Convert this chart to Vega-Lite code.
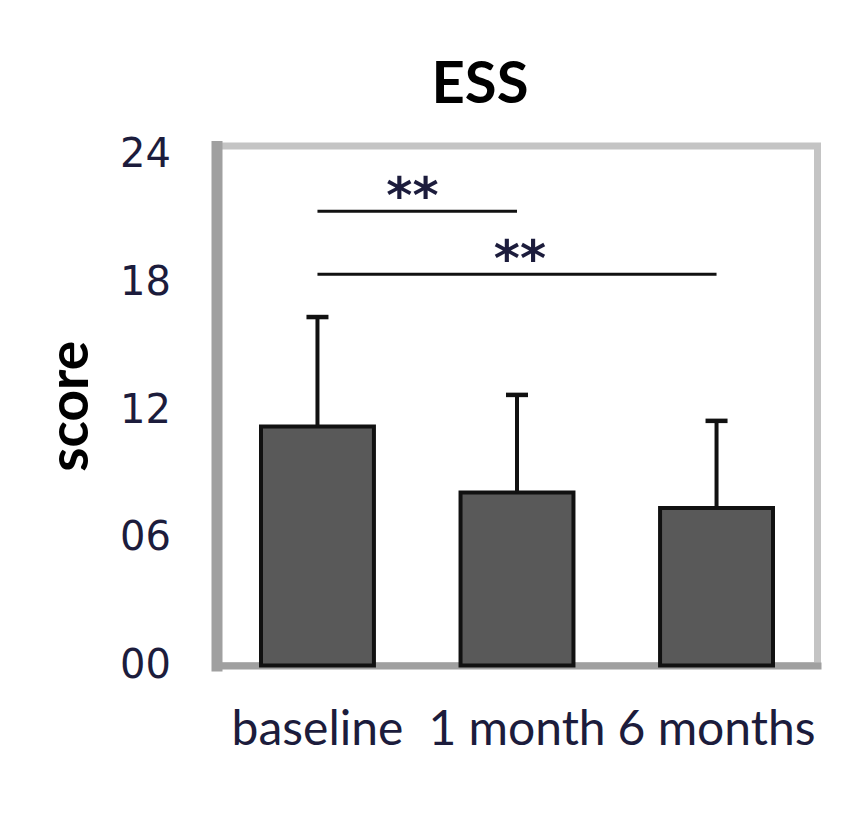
{
  "$schema": "https://vega.github.io/schema/vega-lite/v6.json",
  "autosize": "none",
  "width": 601,
  "height": 519.5,
  "padding": {"left": 216.5, "top": 146, "right": 30.5, "bottom": 150.5},
  "background": "white",
  "title": {
    "text": "ESS",
    "font": "Lato",
    "fontSize": 58,
    "fontWeight": "bold",
    "color": "#000000",
    "anchor": "middle",
    "frame": "group",
    "baseline": "alphabetic",
    "offset": -26,
    "dx": -37
  },
  "config": {
    "view": {"stroke": "#c4c4c4", "strokeWidth": 7},
    "axis": {"zindex": 1},
    "axisX": {
      "ticks": false, "tickSize": 0, "domainColor": "#a0a0a0", "domainWidth": 7, "domainCap": "square",
      "labelFont": "Lato", "labelFontSize": 48, "labelColor": "#1c1c3c", "labelPadding": 41, "labelLimit": 0,
      "labelAngle": 0, "labelOverlap": false, "labelBound": false, "labelBaseline": "top"
    },
    "axisY": {
      "titleFont": "Lato", "titleFontSize": 55, "titleFontWeight": "bold", "titleColor": "#000000",
      "titlePadding": 20, "grid": false, "ticks": false, "tickSize": 0,
      "domainColor": "#a0a0a0", "domainWidth": 11, "domainCap": "square",
      "labelFont": "DejaVu Sans", "labelFontSize": 40, "labelColor": "#1c1c3c", "labelPadding": 46
    }
  },
  "datasets": {
    "bars": [
      {"period": "baseline", "mean": 11.24, "upper": 16.38},
      {"period": "1 month", "mean": 8.13, "upper": 12.72},
      {"period": "6 months", "mean": 7.40, "upper": 11.50}
    ],
    "sig": [
      {"from": "baseline", "to": "1 month", "star_at": "baseline", "level": 21.35, "label": "**", "pair": "a"},
      {"from": "baseline", "to": "6 months", "star_at": "1 month", "level": 18.39, "label": "**", "pair": "b"}
    ]
  },
  "layer": [
    {
      "data": {"name": "bars"},
      "mark": {"type": "bar", "fill": "#595959", "stroke": "#111111", "strokeWidth": 4},
      "encoding": {
        "x": {
          "field": "period", "type": "nominal", "title": null,
          "scale": {"domain": ["baseline", "1 month", "6 months"], "paddingInner": 0.434, "paddingOuter": 0.223}
        },
        "y": {
          "field": "mean", "type": "quantitative", "title": "score",
          "scale": {"domain": [0, 24.42], "nice": false, "zero": true},
          "axis": {"values": [0, 6, 12, 18, 24], "format": "02d"}
        }
      }
    },
    {
      "data": {"name": "bars"},
      "mark": {"type": "rule", "stroke": "#111111", "strokeWidth": 4},
      "encoding": {
        "x": {"field": "period", "type": "nominal", "title": null},
        "y": {"field": "mean", "type": "quantitative", "title": "score"},
        "y2": {"field": "upper"}
      }
    },
    {
      "data": {"name": "bars"},
      "mark": {"type": "tick", "color": "#111111", "size": 22, "thickness": 4.5, "orient": "horizontal", "opacity": 1},
      "encoding": {
        "x": {"field": "period", "type": "nominal", "title": null},
        "y": {"field": "upper", "type": "quantitative", "title": "score"}
      }
    },
    {
      "data": {"name": "sig"},
      "mark": {"type": "rule", "stroke": "#111111", "strokeWidth": 3},
      "encoding": {
        "x": {"field": "from", "type": "nominal", "title": null},
        "x2": {"field": "to"},
        "y": {"field": "level", "type": "quantitative", "title": "score"}
      }
    },
    {
      "data": {"name": "sig"},
      "transform": [{"filter": "datum.pair === 'a'"}],
      "mark": {"type": "text", "font": "DejaVu Sans", "fontSize": 50, "fontWeight": "bold", "color": "#1c1c3c", "baseline": "alphabetic", "align": "center", "dx": 95, "dy": 2},
      "encoding": {
        "x": {"field": "star_at", "type": "nominal", "title": null},
        "y": {"field": "level", "type": "quantitative", "title": "score"},
        "text": {"field": "label"}
      }
    },
    {
      "data": {"name": "sig"},
      "transform": [{"filter": "datum.pair === 'b'"}],
      "mark": {"type": "text", "font": "DejaVu Sans", "fontSize": 50, "fontWeight": "bold", "color": "#1c1c3c", "baseline": "alphabetic", "align": "center", "dx": 3, "dy": 2},
      "encoding": {
        "x": {"field": "star_at", "type": "nominal", "title": null},
        "y": {"field": "level", "type": "quantitative", "title": "score"},
        "text": {"field": "label"}
      }
    }
  ]
}
